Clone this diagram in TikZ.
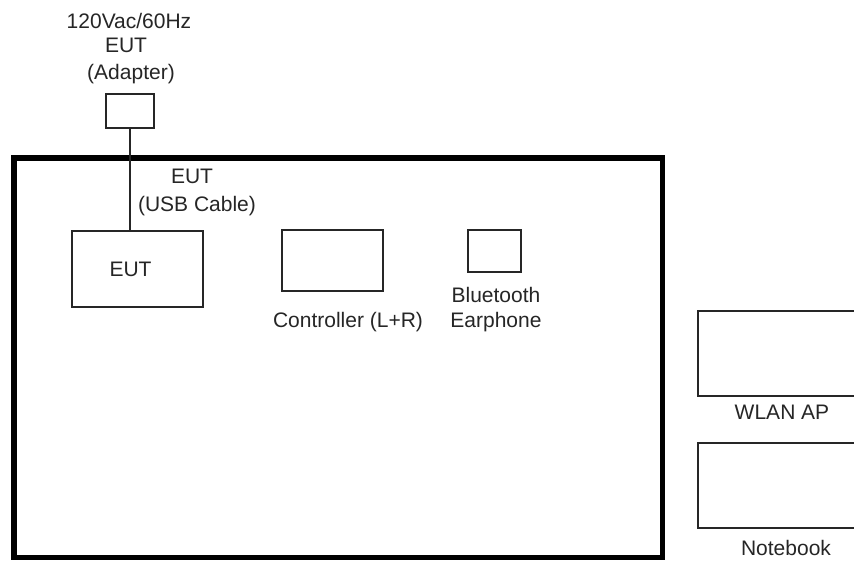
\documentclass[tikz,border=0pt]{standalone}
\usepackage{fontspec}
\setmainfont{Liberation Sans}
\begin{document}
\begin{tikzpicture}[x=1pt,y=-1pt,
  box/.style={draw=black!85,line width=1.6pt,inner sep=0pt,minimum width=#1},
  lbl/.style={anchor=base,inner sep=0pt,font=\fontsize{21}{24}\selectfont,text=black!85}]
\clip (0,0) rectangle (854,561);
\fill[white] (0,0) rectangle (854,561);
% main frame
\node[draw=black,line width=5.5pt,minimum width=648.5pt,minimum height=399.5pt,inner sep=0pt] (frame) at (338.25,357.75) {};
% adapter
\node[box=48pt,minimum height=34pt] (adapter) at (130,111) {};
\node[lbl] (t1) at (129,29) {120Vac/60Hz};
\node[lbl] (t2) at (126,53) {EUT};
\node[lbl] (t3) at (131,80) {(Adapter)};
% EUT
\node[box=131pt,minimum height=76pt] (eut) at (137.5,269) {};
\node[lbl] (eutt) at (130.5,277) {EUT};
\draw[line width=1.6pt,black!85] (adapter.south) -- (adapter.south |- eut.north);
\node[lbl] (u1) at (192,184) {EUT};
\node[lbl] (u2) at (197,212) {(USB Cable)};
% controller
\node[box=101pt,minimum height=61pt] (ctrl) at (332.5,260.5) {};
\node[lbl] (ctrlt) at (348,327) {Controller (L+R)};
% bluetooth
\node[box=53pt,minimum height=42pt] (bt) at (494.5,251) {};
\node[lbl] (bt1) at (496,303) {Bluetooth};
\node[lbl] (bt2) at (496,327) {Earphone};
% WLAN AP
\node[box=200pt,minimum height=85pt] (wlan) at (798,353.5) {};
\node[lbl] (wlant) at (782,419) {WLAN AP};
% Notebook
\node[box=200pt,minimum height=85pt] (nb) at (798,485.5) {};
\node[lbl] (nbt) at (786,555) {Notebook};
\end{tikzpicture}
\end{document}
